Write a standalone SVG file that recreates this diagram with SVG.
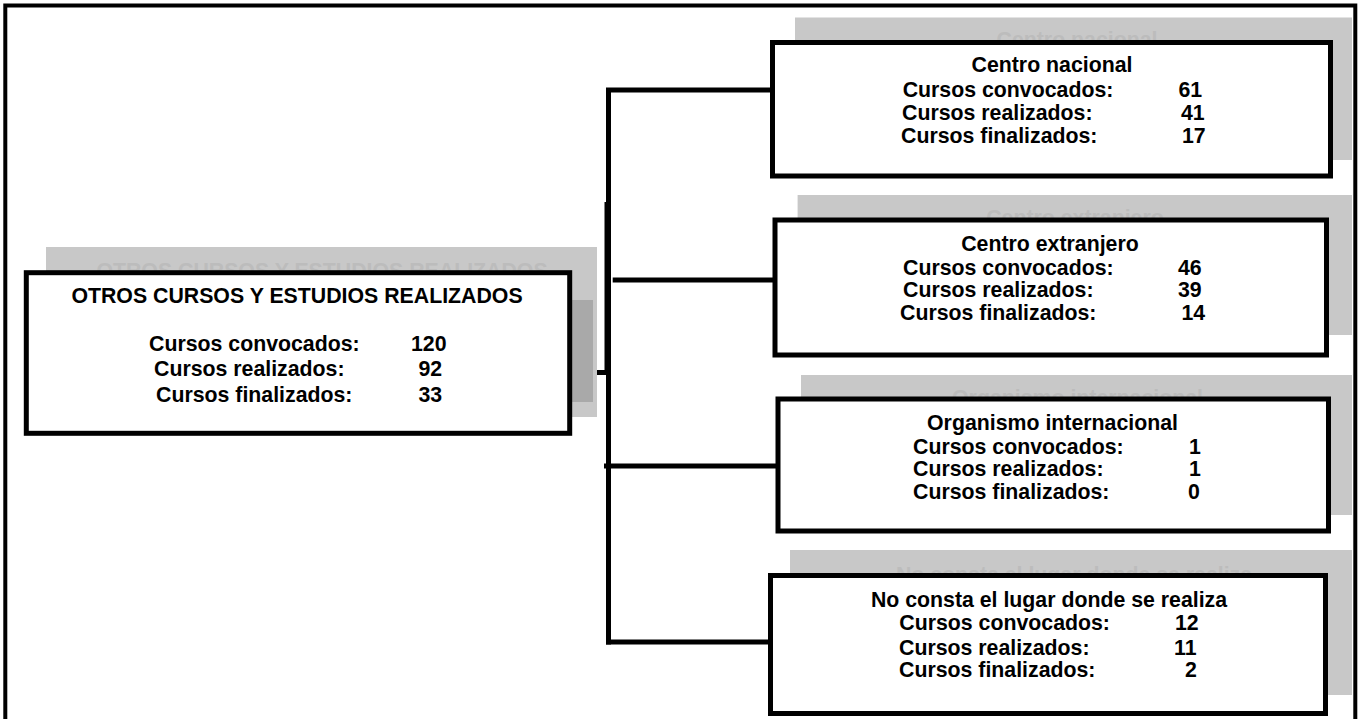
<svg xmlns="http://www.w3.org/2000/svg" width="1360" height="719" viewBox="0 0 1360 719">
<style>
.shadow{fill:#c8c8c8;stroke:none}
.inner{fill:#a9a9a9;stroke:none}
.box{fill:#ffffff;stroke:#000000;stroke-width:5}
.t{font-family:"Liberation Sans",Arial,sans-serif;font-weight:bold;font-size:21.3px;fill:#000000}
.ghost{font-family:"Liberation Sans",Arial,sans-serif;font-weight:bold;font-size:21.3px;fill:#bcbcbc}
.c{text-anchor:middle}
.ln{stroke:#000000;stroke-width:5;fill:none}
</style>
<rect x="0" y="0" width="1360" height="719" fill="#ffffff"/>
<rect id="frame" x="5.3" y="5.5" width="1350" height="720" fill="none" stroke="#000000" stroke-width="4"/>

<g id="connectors">
  <line class="ln" x1="608.5" y1="88" x2="608.5" y2="644.5"/>
  <line class="ln" x1="607" y1="202" x2="607" y2="374"/>
  <line class="ln" x1="606" y1="90" x2="775" y2="90"/>
  <line class="ln" x1="612.7" y1="280" x2="777" y2="280"/>
  <line class="ln" x1="604" y1="466" x2="779" y2="466"/>
  <line class="ln" x1="606" y1="642" x2="772" y2="642"/>
  <line x1="570" y1="372.5" x2="597" y2="372.5" stroke="#4d4d4d" stroke-width="5"/>
  <line class="ln" x1="597" y1="372.5" x2="611" y2="372.5"/>
</g>

<g id="node-main">
  <rect class="shadow" x="46" y="247" width="551" height="170"/>
  <text class="ghost c" x="322" y="278">OTROS CURSOS Y ESTUDIOS REALIZADOS</text>
  <rect class="inner" x="540" y="300" width="53" height="102"/>
  <rect class="box" x="26.3" y="272.7" width="543.4" height="160.6" stroke-width="6"/>
  <text class="t c" x="297" y="302.7">OTROS CURSOS Y ESTUDIOS REALIZADOS</text>
  <text class="t" y="350.7"><tspan x="149">Cursos convocados:</tspan><tspan x="411">120</tspan></text>
  <text class="t" y="376"><tspan x="154">Cursos realizados:</tspan><tspan x="418.5">92</tspan></text>
  <text class="t" y="401.7"><tspan x="156">Cursos finalizados:</tspan><tspan x="418.5">33</tspan></text>
</g>

<g id="node-nacional">
  <rect class="shadow" x="795" y="17.5" width="557" height="142.5"/>
  <text class="ghost c" x="1077" y="46.7">Centro nacional</text>
  <rect class="box" x="772.5" y="42.5" width="558" height="133.5"/>
  <text class="t c" x="1052" y="71.7">Centro nacional</text>
  <text class="t" y="96.7"><tspan x="902.7">Cursos convocados:</tspan><tspan x="1178.5">61</tspan></text>
  <text class="t" y="120"><tspan x="902">Cursos realizados:</tspan><tspan x="1181">41</tspan></text>
  <text class="t" y="142.7"><tspan x="901">Cursos finalizados:</tspan><tspan x="1182">17</tspan></text>
</g>

<g id="node-extranjero">
  <rect class="shadow" x="797.6" y="195" width="554.4" height="140"/>
  <text class="ghost c" x="1075" y="225">Centro extranjero</text>
  <rect class="box" x="775" y="220" width="551.5" height="135"/>
  <text class="t c" x="1050" y="251">Centro extranjero</text>
  <text class="t" y="274.5"><tspan x="903">Cursos convocados:</tspan><tspan x="1178">46</tspan></text>
  <text class="t" y="297"><tspan x="903">Cursos realizados:</tspan><tspan x="1178">39</tspan></text>
  <text class="t" y="319.5"><tspan x="900">Cursos finalizados:</tspan><tspan x="1181.5">14</tspan></text>
</g>

<g id="node-organismo">
  <rect class="shadow" x="801" y="375" width="551" height="140"/>
  <text class="ghost c" x="1077.5" y="405">Organismo internacional</text>
  <rect class="box" x="778" y="399" width="550.5" height="132"/>
  <text class="t c" x="1052.5" y="430">Organismo internacional</text>
  <text class="t" y="453.5"><tspan x="913">Cursos convocados:</tspan><tspan x="1189">1</tspan></text>
  <text class="t" y="476"><tspan x="913">Cursos realizados:</tspan><tspan x="1189">1</tspan></text>
  <text class="t" y="498.5"><tspan x="913">Cursos finalizados:</tspan><tspan x="1188">0</tspan></text>
</g>

<g id="node-noconsta">
  <rect class="shadow" x="790" y="550" width="562" height="145"/>
  <text class="ghost c" x="1074" y="582">No consta el lugar donde se realiza</text>
  <rect class="box" x="770.5" y="575.5" width="555" height="138"/>
  <text class="t c" x="1049" y="606.7">No consta el lugar donde se realiza</text>
  <text class="t" y="630"><tspan x="899.3">Cursos convocados:</tspan><tspan x="1175">12</tspan></text>
  <text class="t" y="655"><tspan x="899">Cursos realizados:</tspan><tspan x="1174">11</tspan></text>
  <text class="t" y="677"><tspan x="899">Cursos finalizados:</tspan><tspan x="1185">2</tspan></text>
</g>
</svg>
